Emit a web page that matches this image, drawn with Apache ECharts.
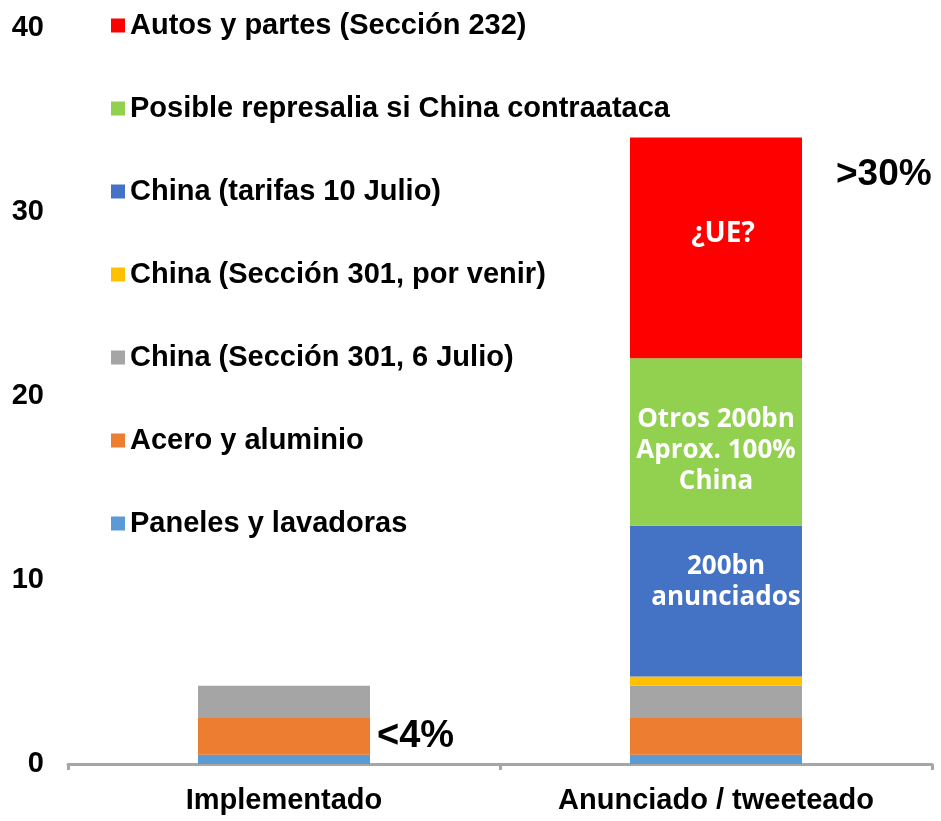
<!DOCTYPE html>
<html>
<head>
<meta charset="utf-8">
<script src="https://cdn.jsdelivr.net/npm/echarts@6/dist/echarts.min.js"></script>
<style>
  html, body { margin: 0; padding: 0; background: #fff; }
  #chart { width: 941px; height: 821px; }
</style>
</head>
<body>
<div id="chart"></div>
<script>
// categorias del eje x
const categories = ['Implementado', 'Anunciado / tweeteado']
const yTicks = [0, 10, 20, 30, 40]

// valores por serie (orden de apilado, de abajo hacia arriba)
const paneles = [0.5, 0.5]
const acero = [2.0, 2.0]
const china301Julio = [1.75, 1.75]
const china301Venir = ['-', 0.5]
const chinaTarifas = ['-', 8.2]
const represalia = ['-', 9.1]
const autos = ['-', 12.0]

const names = [
  'Paneles y lavadoras',
  'Acero y aluminio',
  'China (Sección 301, 6 Julio)',
  'China (Sección 301, por venir)',
  'China (tarifas 10 Julio)',
  'Posible represalia si China contraataca',
  'Autos y partes (Sección 232)',
]
const colors = ['#5B9BD5', '#ED7D31', '#A5A5A5', '#FFC000', '#4472C4', '#92D050', '#FF0000']

const inner = {
  show: true,
  position: 'inside',
  color: '#fff',
  fontFamily: 'Open Sans',
  fontWeight: 'bold',
  fontSize: 26,
  lineHeight: 31,
}

function bar(i, data) {
  return {
    name: names[i],
    type: 'bar',
    stack: 'total',
    barWidth: 172,
    itemStyle: { color: colors[i] },
    emphasis: { disabled: true },
    data: data,
  }
}

const series = [
  bar(0, paneles),
  bar(1, acero.map((v, i) => i === 0 ? {
    value: v,
    label: {
      show: true, position: 'right', distance: 7, formatter: '<4%',
      color: '#000', fontFamily: 'Liberation Sans', fontWeight: 'bold', fontSize: 38,
    },
  } : v)),
  bar(2, china301Julio),
  bar(3, china301Venir),
  bar(4, chinaTarifas.map((v, i) => i === 1 ? {
    value: v,
    label: Object.assign({}, inner, { offset: [10, -19], formatter: '200bn\nanunciados' }),
  } : v)),
  bar(5, represalia.map((v, i) => i === 1 ? {
    value: v,
    label: Object.assign({}, inner, { offset: [0, 9], formatter: 'Otros 200bn\nAprox. 100%\nChina' }),
  } : v)),
  bar(6, autos.map((v, i) => i === 1 ? {
    value: v,
    label: Object.assign({}, inner, { offset: [7, -14], fontSize: 28, formatter: '¿UE?' }),
  } : v)),
]

// etiqueta >30% a la derecha del bloque rojo
series.push({
  name: '_total',
  type: 'bar',
  stack: 'total',
  barWidth: 172,
  silent: true,
  itemStyle: { color: 'transparent' },
  data: ['-', {
    value: 0.0001,
    label: {
      show: true, position: [206, 37], formatter: '>30%', verticalAlign: 'middle', align: 'left',
      color: '#000', fontFamily: 'Liberation Sans', fontWeight: 'bold', fontSize: 37,
    },
  }],
})

const chart = echarts.init(document.getElementById('chart'))
chart.setOption({
  animation: false,
  color: colors,
  grid: { left: 68, right: 9, top: 28, bottom: 57 },
  legend: {
    orient: 'vertical',
    left: 106,
    top: 6,
    itemWidth: 14,
    itemHeight: 14,
    itemGap: 54,
    icon: 'rect',
    itemStyle: { borderWidth: 0 },
    selectedMode: false,
    data: names.slice().reverse(),
    textStyle: { color: '#000', fontFamily: 'Liberation Sans', fontWeight: 'bold', fontSize: 29 },
  },
  xAxis: {
    type: 'category',
    data: categories,
    axisLine: { lineStyle: { color: '#A6A6A6', width: 3 } },
    axisTick: { show: true, length: 6, lineStyle: { color: '#A6A6A6', width: 3 } },
    axisLabel: { margin: 22, color: '#000', fontFamily: 'Liberation Sans', fontWeight: 'bold', fontSize: 29 },
  },
  yAxis: {
    type: 'value',
    min: yTicks[0],
    max: yTicks[yTicks.length - 1],
    interval: 10,
    axisLine: { show: false },
    axisTick: { show: false },
    splitLine: { show: false },
    axisLabel: { margin: 24, color: '#000', fontFamily: 'Liberation Sans', fontWeight: 'bold', fontSize: 29 },
  },
  series: series,
})
</script>
</body>
</html>
